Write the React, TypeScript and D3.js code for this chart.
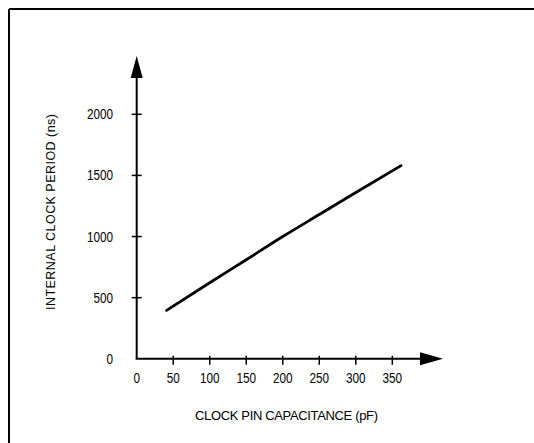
import React from "react";
import * as d3 from "d3";

const capacitance = [41, 100, 150, 200, 250, 300, 362];
const period = [396, 622, 810, 1000, 1180, 1360, 1580];
const xTicks = [0, 50, 100, 150, 200, 250, 300, 350];
const yTicks = [0, 500, 1000, 1500, 2000];
const xTitle = "CLOCK PIN CAPACITANCE (pF)";
const yTitle = "INTERNAL CLOCK PERIOD (ns)";

export default function App() {
  const W = 534, H = 443;
  const x = d3.scaleLinear().domain([0, 350]).range([136.7, 392.3]);
  const y = d3.scaleLinear().domain([0, 2000]).range([358.8, 114.3]);
  const pts = capacitance.map((c, i) => [c, period[i]] as [number, number]);
  const line = d3.line<[number, number]>().x(d => x(d[0])).y(d => y(d[1])).curve(d3.curveMonotoneX);
  const x0 = x(0), y0 = y(0);
  const font = "'Liberation Sans', Arial, sans-serif";
  const sx = 0.84;
  return (
    <svg width={W} height={H} style={{ position: "absolute", left: 0, top: 0, background: "#fff" }}>
      <rect x={0} y={0} width={W} height={H} fill="#fff" />
      {/* frame */}
      <line x1={9} y1={9} x2={W} y2={9} stroke="#000" strokeWidth={2} />
      <line x1={9} y1={9} x2={9} y2={H} stroke="#000" strokeWidth={2} />
      {/* y axis */}
      <line x1={x0} y1={y0} x2={x0} y2={70} stroke="#000" strokeWidth={2} />
      <path d={`M${x0},56 L${x0 - 6},78 L${x0 + 6},78 Z`} fill="#000" />
      {/* x axis */}
      <line x1={x0 - 1} y1={y0} x2={425} y2={y0} stroke="#000" strokeWidth={2} />
      <path d={`M443,${y0} L420,${y0 - 6.5} L420,${y0 + 6.5} Z`} fill="#000" />
      {yTicks.filter(t => t > 0).map(t => (
        <line key={"yt" + t} x1={x0 - 5} x2={x0 + 5} y1={y(t)} y2={y(t)} stroke="#000" strokeWidth={1.5} />
      ))}
      {xTicks.filter(t => t > 0).map(t => (
        <line key={"xt" + t} x1={x(t)} x2={x(t)} y1={y0 - 3} y2={y0 + 6} stroke="#000" strokeWidth={1.5} />
      ))}
      {yTicks.map(t => (
        <g key={"yl" + t} transform={`translate(113,${y(t) + 5}) scale(${sx},1)`}>
          <text x={0} y={0} textAnchor="end" fontFamily={font} fontSize={14} fill="#000">{t}</text>
        </g>
      ))}
      {xTicks.map(t => (
        <g key={"xl" + t} transform={`translate(${x(t)},383) scale(${sx},1)`}>
          <text x={0} y={0} textAnchor="middle" fontFamily={font} fontSize={14} fill="#000">{t}</text>
        </g>
      ))}
      <text x={286.5} y={420} textAnchor="middle" fontFamily={font} fontSize={13} textLength={183} lengthAdjust="spacing" fill="#000">{xTitle}</text>
      <text transform={`translate(55,212) rotate(-90)`} textAnchor="middle" fontFamily={font} fontSize={12.5} textLength={196} lengthAdjust="spacing" fill="#000">{yTitle}</text>
      <path d={line(pts) || ""} fill="none" stroke="#000" strokeWidth={2.8} strokeLinecap="round" />
    </svg>
  );
}
